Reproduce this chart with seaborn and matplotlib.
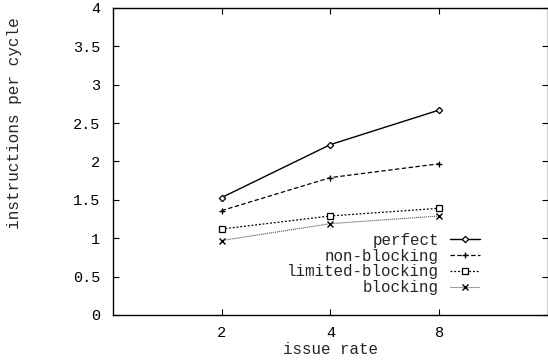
import pandas as pd
import numpy as np
import matplotlib
matplotlib.use('Agg')
import matplotlib.pyplot as plt
import seaborn as sns

# issue rates (plotted as evenly spaced categories)
issue_rates = ['2', '4', '8']
perfect = [1.53, 2.22, 2.67]
non_blocking = [1.36, 1.79, 1.97]
limited_blocking = [1.12, 1.29, 1.39]
blocking = [0.97, 1.19, 1.29]

series = [
    ('perfect', perfect, dict(color='black', linestyle='-', marker='D', markersize=3.2,
                              markerfacecolor='white', markeredgecolor='black',
                              markeredgewidth=0.9, linewidth=1.0)),
    ('non-blocking', non_blocking, dict(color='black', linestyle=(0, (3.5, 2)), marker='+', markersize=5,
                                        markeredgecolor='black', markeredgewidth=1.0, linewidth=0.9)),
    ('limited-blocking', limited_blocking, dict(color='black', linestyle=(0, (1.5, 1.5)), marker='s', markersize=4.3,
                                                markerfacecolor='white', markeredgecolor='black',
                                                markeredgewidth=0.9, linewidth=0.9)),
    ('blocking', blocking, dict(color='#555555', linestyle=(0, (1, 0.8)), marker='x', markersize=4,
                                markeredgecolor='black', markeredgewidth=1.0, linewidth=0.8)),
]

sns.set_theme(style='ticks')
plt.rcParams['font.family'] = ['Liberation Mono', 'DejaVu Sans Mono']

fig, ax = plt.subplots(figsize=(5.48, 3.6), dpi=100)
fig.subplots_adjust(left=0.206, right=1.0, top=0.978, bottom=0.125)

xpos = np.arange(1, len(issue_rates) + 1)
for name, vals, style in series:
    sns.lineplot(x=xpos, y=vals, ax=ax, label=name, **style)

ax.set_xlim(0, 4)
ax.set_ylim(0, 4)
ax.set_xticks(xpos)
ax.set_xticklabels(issue_rates)
ax.set_yticks(np.arange(0, 4.01, 0.5))
ax.set_yticklabels(['0', '0.5', '1', '1.5', '2', '2.5', '3', '3.5', '4'])
ax.tick_params(direction='in', length=4, width=0.8, top=True, right=True,
               labelsize=11, colors='black')
ax.tick_params(axis='y', pad=9)
ax.tick_params(axis='x', pad=8)
for s in ax.spines.values():
    s.set_color('black')
    s.set_linewidth(1.0)

ax.set_xlabel('issue rate', fontsize=11.4)
ax.set_ylabel('instructions per cycle', fontsize=11.6)
ax.xaxis.set_label_coords(0.5, -0.111)
ax.yaxis.set_label_coords(-0.225, 0.625)
ax.xaxis.label.set_va('center')
ax.yaxis.label.set_va('center')

ax.legend(loc='lower right', bbox_to_anchor=(0.862, 0.039), frameon=False, markerfirst=False,
          fontsize=11.4, handlelength=1.9, handletextpad=0.7, labelspacing=0.05,
          borderpad=0)

fig.savefig('out.png', dpi=100)
